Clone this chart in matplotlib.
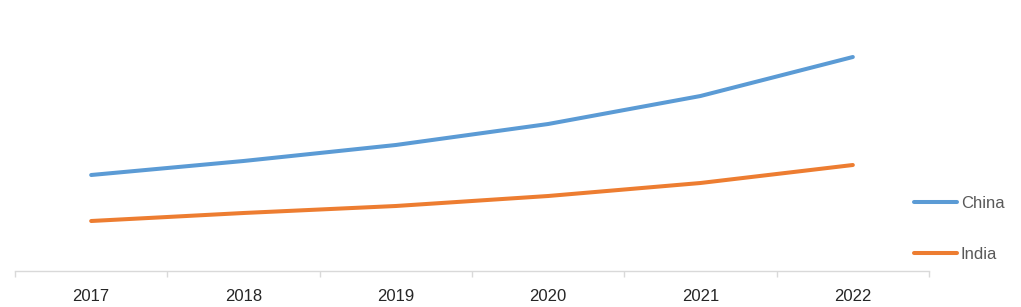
import numpy as np
import matplotlib.pyplot as plt

years = ["2017", "2018", "2019", "2020", "2021", "2022"]
china = [96, 110, 126, 147, 175, 214]
india = [50, 58, 65, 75, 88, 106]

plt.rcParams['font.family'] = ['Liberation Sans', 'DejaVu Sans']

fig = plt.figure(figsize=(10.21, 3.07), dpi=100)
ax = fig.add_axes([15 / 1021, 36 / 307, 914 / 1021, 261 / 307])

x = np.arange(len(years)) + 0.5
ax.plot(x, china, color="#5B9BD5", lw=2.9, solid_capstyle="round", solid_joinstyle="round", label="China")
ax.plot(x, india, color="#ED7D31", lw=2.9, solid_capstyle="round", solid_joinstyle="round", label="India")

ax.set_xlim(0, len(years))
ax.set_ylim(0, 261)
ax.set_yticks([])
ax.set_xticks(x)
ax.set_xticklabels(years, fontsize=12, color="#262626")
ax.set_xticks(np.arange(len(years) + 1), minor=True)
ax.tick_params(axis="x", which="major", length=0, pad=13)
ax.tick_params(axis="x", which="minor", length=4.5, color="#D9D9D9", width=1)

for s in ["top", "left", "right"]:
    ax.spines[s].set_visible(False)
ax.spines["bottom"].set_color("#D9D9D9")
ax.spines["bottom"].set_linewidth(1)

fig.legend(loc="center left", bbox_to_anchor=(899 / 1021, 1 - 229 / 307), frameon=False,
           fontsize=12, labelcolor="#595959", handlelength=2.6, handletextpad=0.2,
           labelspacing=2.2)

fig.savefig("out.png", dpi=100)
